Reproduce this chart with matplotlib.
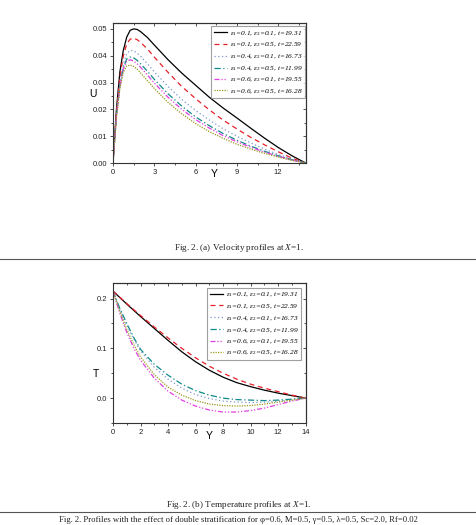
import matplotlib
matplotlib.use("Agg")
import matplotlib.pyplot as plt
from matplotlib.lines import Line2D

plt.rcParams['font.family'] = ['Liberation Sans', 'DejaVu Sans']
plt.rcParams['mathtext.fontset'] = 'custom'
plt.rcParams['mathtext.rm'] = 'Liberation Serif'
plt.rcParams['mathtext.it'] = 'Liberation Serif:italic'

# ---------------- data ----------------
labels = [
    ("0.1", "0.1", "19.31"),
    ("0.1", "0.5", "22.59"),
    ("0.4", "0.1", "16.73"),
    ("0.4", "0.5", "11.99"),
    ("0.6", "0.1", "19.55"),
    ("0.6", "0.5", "16.28"),
]

Yu = [0, 0.25, 0.5, 0.75, 1, 1.25, 1.5, 1.75, 2, 2.5, 3, 4, 5, 6, 7, 8, 9, 10, 11, 12, 13, 14]
U1 = [0, 0.020, 0.034, 0.042, 0.047, 0.0495, 0.0500, 0.0498, 0.0490, 0.0468, 0.0440, 0.0385, 0.0335, 0.0290, 0.0245, 0.0205, 0.0168, 0.0130, 0.0093, 0.0058, 0.0027, 0]
U2 = [0, 0.019, 0.032, 0.040, 0.0445, 0.0462, 0.0465, 0.0460, 0.0450, 0.0425, 0.0395, 0.0338, 0.0285, 0.0240, 0.0198, 0.0160, 0.0127, 0.0096, 0.0068, 0.0042, 0.0018, 0]
U3 = [0, 0.018, 0.030, 0.037, 0.0408, 0.0420, 0.0418, 0.0410, 0.0398, 0.0370, 0.0340, 0.0285, 0.0237, 0.0196, 0.0160, 0.0128, 0.0100, 0.0075, 0.0052, 0.0032, 0.0014, 0]
U4 = [0, 0.0175, 0.029, 0.0355, 0.0388, 0.0395, 0.0392, 0.0383, 0.0370, 0.0342, 0.0312, 0.0258, 0.0212, 0.0172, 0.0139, 0.0110, 0.0085, 0.0063, 0.0044, 0.0027, 0.0012, 0]
U5 = [0, 0.0172, 0.0285, 0.0350, 0.0380, 0.0385, 0.0380, 0.0370, 0.0357, 0.0328, 0.0298, 0.0245, 0.0200, 0.0162, 0.0130, 0.0102, 0.0079, 0.0059, 0.0041, 0.0025, 0.0011, 0]
U6 = [0, 0.0168, 0.0278, 0.0338, 0.0362, 0.0365, 0.0360, 0.0350, 0.0336, 0.0307, 0.0278, 0.0226, 0.0183, 0.0147, 0.0117, 0.0092, 0.0070, 0.0052, 0.0036, 0.0022, 0.0010, 0]

Yt = [0, 0.5, 1, 1.5, 2, 3, 4, 5, 6, 7, 8, 9, 10, 11, 12, 13, 14]
T1 = [0.215, 0.202, 0.189, 0.1765, 0.164, 0.140, 0.116, 0.093, 0.073, 0.056, 0.042, 0.031, 0.023, 0.016, 0.010, 0.005, 0]
T2 = [0.215, 0.2025, 0.190, 0.178, 0.166, 0.143, 0.121, 0.100, 0.081, 0.064, 0.050, 0.038, 0.028, 0.020, 0.013, 0.006, 0]
T3 = [0.215, 0.178, 0.147, 0.119, 0.095, 0.062, 0.038, 0.020, 0.007, -0.001, -0.006, -0.008, -0.009, -0.008, -0.006, -0.003, 0]
T4 = [0.215, 0.180, 0.150, 0.122, 0.098, 0.068, 0.046, 0.028, 0.015, 0.006, 0.000, -0.003, -0.004, -0.005, -0.004, -0.002, 0]
T5 = [0.215, 0.170, 0.132, 0.101, 0.076, 0.040, 0.014, -0.004, -0.016, -0.024, -0.028, -0.028, -0.025, -0.020, -0.013, -0.006, 0]
T6 = [0.215, 0.174, 0.138, 0.108, 0.083, 0.047, 0.022, 0.006, -0.005, -0.012, -0.015, -0.016, -0.015, -0.012, -0.008, -0.004, 0]

U_series = [U1, U2, U3, U4, U5, U6]
T_series = [T1, T2, T3, T4, T5, T6]

# ---------------- styles ----------------
colors = ['#000000', '#e8202a', '#7f97cf', '#118a8a', '#e040e0', '#9a9a20']
styles = ['-', (0, (4, 3)), (0, (1, 2)), (0, (5, 2, 1, 2)), (0, (4, 1.5, 1, 1.5, 1, 1.5)), (0, (1, 1))]


def make_label(a, b, t):
    return ("ε$_{\\mathit{1}}$=" + a + ", ε$_{\\mathit{2}}$=" + b + ", t=" + t)


W, H = 477, 525
fig = plt.figure(figsize=(W / 100, H / 100), dpi=100)


def px_axes(l, t, r, b):
    return fig.add_axes([l / W, 1 - b / H, (r - l) / W, (b - t) / H])


def style_axes(ax, xmaj, xmin, ymaj, ymin):
    for s in ax.spines.values():
        s.set_linewidth(0.8)
        s.set_color('#333333')
    ax.set_xticks(xmaj)
    ax.set_xticks(xmin, minor=True)
    ax.set_yticks(ymaj)
    ax.set_yticks(ymin, minor=True)
    ax.tick_params(which='both', direction='out', labelsize=5.5, width=0.6,
                   colors='#333333', labelcolor='#222222', pad=1.5)
    ax.tick_params(which='major', length=2.5)
    ax.tick_params(which='minor', length=1.5)
    sx = ax.secondary_xaxis('top')
    sx.set_xticks(xmaj)
    sx.set_xticks(xmin, minor=True)
    sx.tick_params(which='both', direction='in', labeltop=False, width=0.6, colors='#333333')
    sx.tick_params(which='major', length=2.5)
    sx.tick_params(which='minor', length=1.5)
    sx.spines['top'].set_linewidth(0.8)
    sx.spines['top'].set_color('#333333')
    sy = ax.secondary_yaxis('right')
    sy.set_yticks(ymaj)
    sy.set_yticks(ymin, minor=True)
    sy.tick_params(which='both', direction='in', labelright=False, width=0.6, colors='#333333')
    sy.tick_params(which='major', length=2.5)
    sy.tick_params(which='minor', length=1.5)
    sy.spines['right'].set_linewidth(0.8)
    sy.spines['right'].set_color('#333333')


leg_font = {'family': 'Liberation Serif', 'style': 'italic', 'size': 5.3}
leg_kw = dict(prop=leg_font, frameon=True, fancybox=False, edgecolor='#888888',
              handlelength=1.8, handletextpad=0.4, borderpad=0.35, labelspacing=0.32,
              borderaxespad=0)

# ---------------- top plot ----------------
ax1 = px_axes(113, 23, 305.7, 163)
for s, c, ls, lab in zip(U_series, colors, styles, labels):
    ax1.plot(Yu, s, color=c, linestyle=ls, lw=0.9, label=make_label(*lab))
ax1.set_xlim(0, 14)
ax1.set_ylim(0, 0.0522)
style_axes(ax1, [0, 3, 6, 9, 12], [1.5, 4.5, 7.5, 10.5, 13.5],
           [0, 0.01, 0.02, 0.03, 0.04, 0.05], [0.005, 0.015, 0.025, 0.035, 0.045])
ax1.set_yticklabels(['0.00', '0.01', '0.02', '0.03', '0.04', '0.05'])
ax1.text(-0.105, 0.493, 'U', transform=ax1.transAxes, fontsize=7.5, ha='center', va='center')
ax1.text(0.525, -0.079, 'Y', transform=ax1.transAxes, fontsize=7.5, ha='center', va='center')
leg1 = ax1.legend(loc='upper left', bbox_to_anchor=((211 - 113) / 192.7, (163 - 26.5) / 140), **leg_kw)
leg1.get_frame().set_linewidth(0.8)

# ---------------- bottom plot ----------------
ax2 = px_axes(113, 283, 305.7, 423)
for s, c, ls, lab in zip(T_series, colors, styles, labels):
    ax2.plot(Yt, s, color=c, linestyle=ls, lw=0.9, label=make_label(*lab))
ax2.set_xlim(0, 14)
ax2.set_ylim(-0.0401, 0.2313)
style_axes(ax2, list(range(0, 15, 2)), list(range(1, 15, 2)),
           [0.0, 0.1, 0.2], [-0.05, 0.05, 0.15])
ax2.set_yticklabels(['0.0', '0.1', '0.2'])
ax2.text(-0.088, 0.35, 'T', transform=ax2.transAxes, fontsize=7.5, ha='center', va='center')
ax2.text(0.5, -0.093, 'Y', transform=ax2.transAxes, fontsize=7.5, ha='center', va='center')
leg2 = ax2.legend(loc='upper left', bbox_to_anchor=((207.3 - 113) / 192.7, (423 - 288) / 140), **leg_kw)
leg2.get_frame().set_linewidth(0.8)

# ---------------- captions ----------------
cap_font = dict(family='Liberation Serif', size=6.6, color='#222222')
fig.text(0.5, 1 - 248 / H, 'Fig. 2. (a) Velocity profiles at $\\mathit{X}$=$\\mathit{1}$.',
         ha='center', va='center', **cap_font)
fig.add_artist(Line2D([0, 1], [1 - 258.5 / H, 1 - 258.5 / H], transform=fig.transFigure,
                      color='#555555', lw=0.8))
fig.text(0.5, 1 - 505 / H, 'Fig. 2. (b) Temperature profiles at $\\mathit{X}$=$\\mathit{1}$.',
         ha='center', va='center', **cap_font)
fig.add_artist(Line2D([0, 1], [1 - 512 / H, 1 - 512 / H], transform=fig.transFigure,
                      color='#555555', lw=0.8))
fig.text(0.5, 1 - 519.5 / H,
         'Fig. 2. Profiles with the effect of double stratification for φ=0.6, M=0.5, γ=0.5, λ=0.5, Sc=2.0, Rf=0.02',
         ha='center', va='center', family='Liberation Serif', size=6.2, color='#222222')

fig.savefig('out.png', dpi=100)
